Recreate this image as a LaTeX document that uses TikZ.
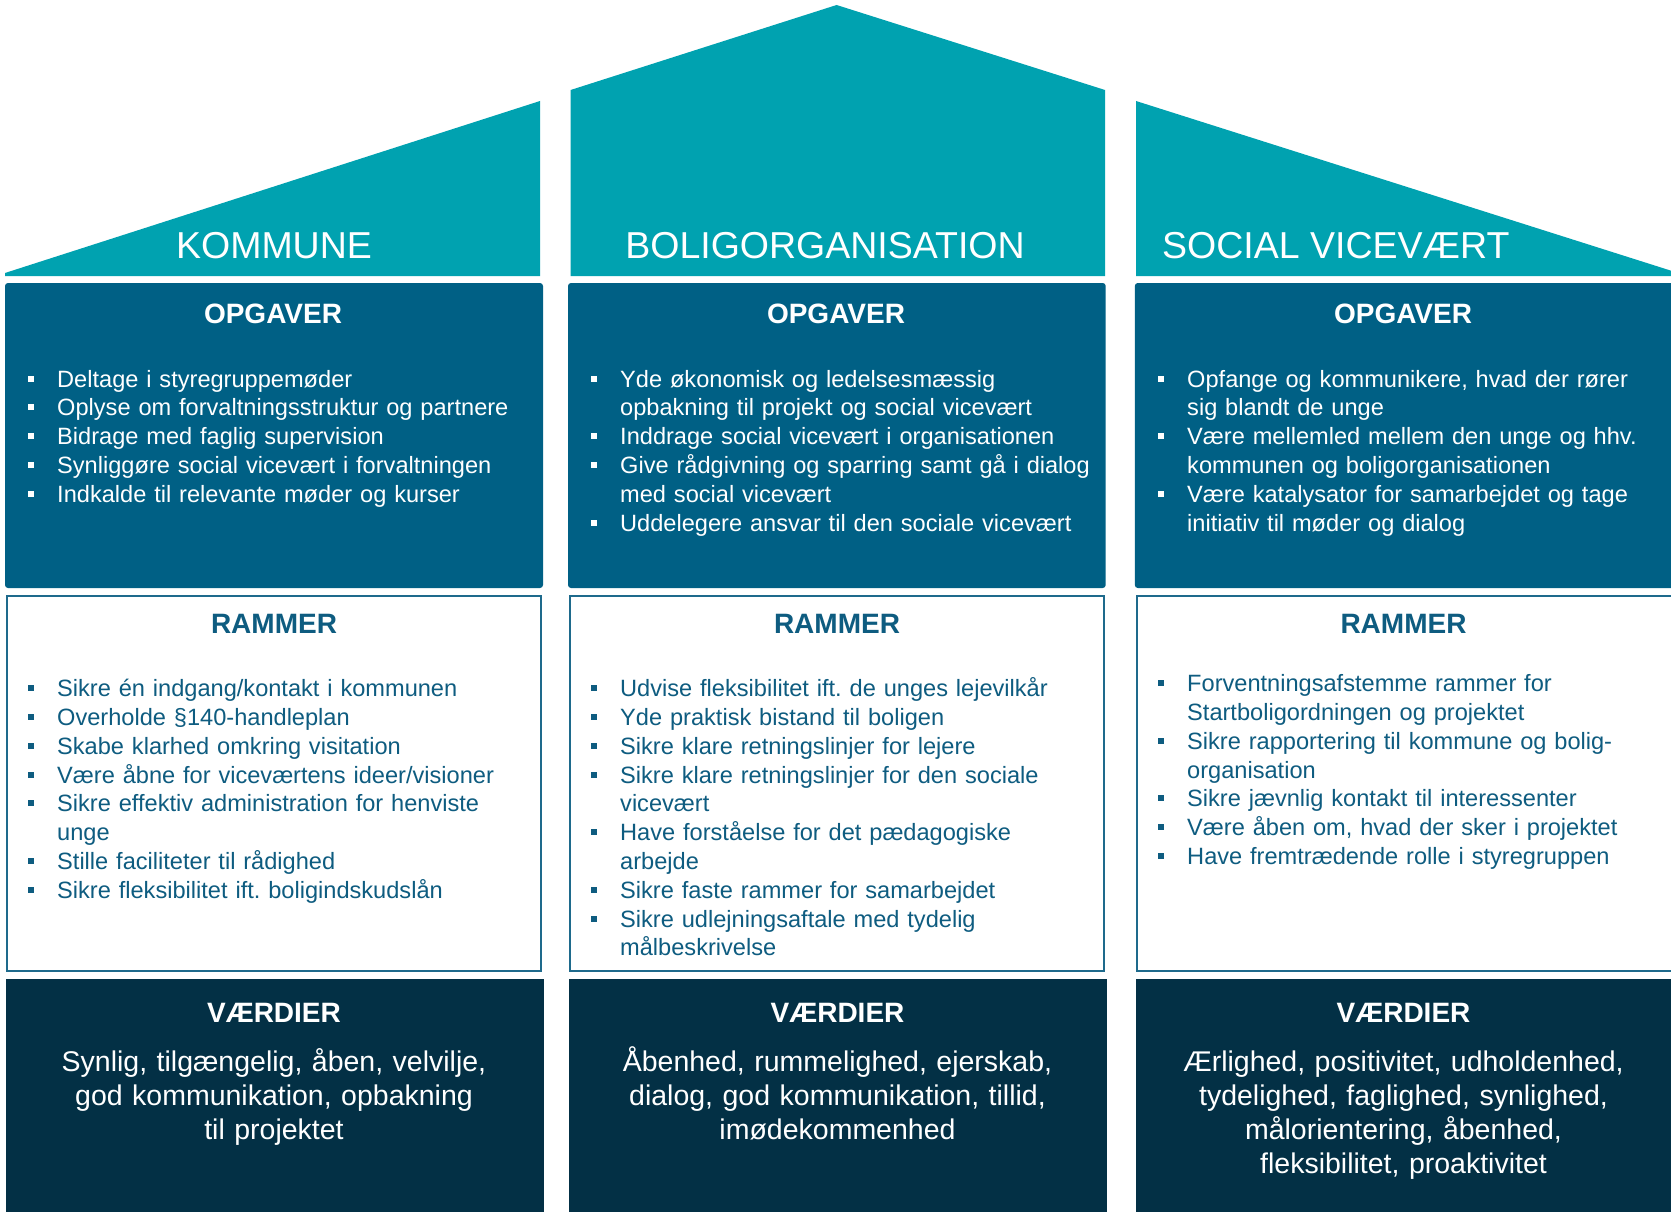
\documentclass[tikz,border=0pt]{standalone}
\usepackage{fontspec}
\setmainfont{Liberation Sans}
\frenchspacing
\definecolor{roofteal}{RGB}{0,162,176}
\definecolor{opgblue}{RGB}{0,96,133}
\definecolor{ramtext}{RGB}{14,92,128}
\definecolor{ramline}{RGB}{30,106,140}
\definecolor{vaernavy}{RGB}{3,48,69}
\newcommand\bul[1]{\noindent\makebox[29.6pt][l]{\rule[5.5pt]{6pt}{6pt}}#1\par}
\newcommand\cnt[1]{\noindent\hspace*{29.6pt}#1\par}
\tikzset{
  roof/.style={fill=roofteal},
  opgbox/.style={fill=opgblue, rounded corners=3pt},
  rambox/.style={draw=ramline, line width=2pt, fill=white},
  vaerbox/.style={fill=vaernavy},
  rooflabel/.style={text=white, font=\fontsize{37.5}{40}\selectfont, inner sep=0pt},
  head/.style={font=\fontsize{28}{32}\selectfont\bfseries, inner sep=0pt, anchor=base},
  lst/.style={font=\fontsize{23.6}{28.8}\selectfont\frenchspacing, inner sep=0pt, anchor=base west, text width=600pt},
  vtxt/.style={font=\fontsize{28.5}{34}\selectfont, inner sep=0pt, anchor=base, text width=540pt, align=center, text=white},
}
\begin{document}
\begin{tikzpicture}[x=1pt,y=-1pt]
\useasboundingbox (0,0) rectangle (1671,1212);
\fill[white] (0,0) rectangle (1671,1212);
% roofs
\fill[roof] (5,276) -- (5,273) -- (540,101) -- (540,276) -- cycle;
\fill[roof] (570.6,276) -- (570.6,90) -- (836.6,5) -- (1105,90) -- (1105,276) -- cycle;
\fill[roof] (1136,276) -- (1136,101) -- (1672,271) -- (1672,276) -- cycle;
\node[rooflabel, anchor=base] (lkom) at (274,258) {KOMMUNE};
\node[rooflabel, anchor=base] (lbol) at (825,258) {BOLIGORGANISATION};
\node[rooflabel, anchor=base west] (lsoc) at (1162,258) {SOCIAL VICEVÆRT};
% OPGAVER boxes
\fill[opgbox] (5,283) rectangle (543,588);
\fill[opgbox] (568,283) rectangle (1105.7,588);
\fill[opgbox] (1134.8,283) rectangle (1678,588);
% RAMMER boxes
\draw[rambox] (7.4,596) rectangle (540.8,971);
\draw[rambox] (570,596) rectangle (1104,971);
\draw[rambox] (1136.8,596) rectangle (1678,971);
% VAERDIER boxes
\fill[vaerbox] (6.4,979) rectangle (543.7,1214);
\fill[vaerbox] (569,979) rectangle (1106.6,1214);
\fill[vaerbox] (1136.4,979) rectangle (1678,1214);
% headings
\node[head, text=white] (ho1) at (273,323) {OPGAVER};
\node[head, text=white] (ho2) at (836,323) {OPGAVER};
\node[head, text=white] (ho3) at (1403,323) {OPGAVER};
\node[head, text=ramtext] (hr1) at (274,633) {RAMMER};
\node[head, text=ramtext] (hr2) at (837,633) {RAMMER};
\node[head, text=ramtext] (hr3) at (1403.5,633) {RAMMER};
\node[head, text=white] (hv1) at (274,1022.7) {VÆRDIER};
\node[head, text=white] (hv2) at (837.5,1022.7) {VÆRDIER};
\node[head, text=white] (hv3) at (1403.5,1022.7) {VÆRDIER};
% OPGAVER lists
\node[lst, text=white] (lo1) at (27.4,387) {%
\bul{Deltage i styregruppemøder}%
\bul{Oplyse om forvaltningsstruktur og partnere}%
\bul{Bidrage med faglig supervision}%
\bul{Synliggøre social vicevært i forvaltningen}%
\bul{Indkalde til relevante møder og kurser}};
\node[lst, text=white] (lo2) at (590.4,387) {%
\bul{Yde økonomisk og ledelsesmæssig}%
\cnt{opbakning til projekt og social vicevært}%
\bul{Inddrage social vicevært i organisationen}%
\bul{Give rådgivning og sparring samt gå i dialog}%
\cnt{med social vicevært}%
\bul{Uddelegere ansvar til den sociale vicevært}};
\node[lst, text=white] (lo3) at (1157.4,387) {%
\bul{Opfange og kommunikere, hvad der rører}%
\cnt{sig blandt de unge}%
\bul{Være mellemled mellem den unge og hhv.}%
\cnt{kommunen og boligorganisationen}%
\bul{Være katalysator for samarbejdet og tage}%
\cnt{initiativ til møder og dialog}};
% RAMMER lists
\node[lst, text=ramtext] (lr1) at (27.4,696.7) {%
\bul{Sikre én indgang/kontakt i kommunen}%
\bul{Overholde §140-handleplan}%
\bul{Skabe klarhed omkring visitation}%
\bul{Være åbne for viceværtens ideer/visioner}%
\bul{Sikre effektiv administration for henviste}%
\cnt{unge}%
\bul{Stille faciliteter til rådighed}%
\bul{Sikre fleksibilitet ift. boligindskudslån}};
\node[lst, text=ramtext] (lr2) at (590.4,696.7) {%
\bul{Udvise fleksibilitet ift. de unges lejevilkår}%
\bul{Yde praktisk bistand til boligen}%
\bul{Sikre klare retningslinjer for lejere}%
\bul{Sikre klare retningslinjer for den sociale}%
\cnt{vicevært}%
\bul{Have forståelse for det pædagogiske}%
\cnt{arbejde}%
\bul{Sikre faste rammer for samarbejdet}%
\bul{Sikre udlejningsaftale med tydelig}%
\cnt{målbeskrivelse}};
\node[lst, text=ramtext] (lr3) at (1157.4,691.7) {%
\bul{Forventningsafstemme rammer for}%
\cnt{Startboligordningen og projektet}%
\bul{Sikre rapportering til kommune og bolig-}%
\cnt{organisation}%
\bul{Sikre jævnlig kontakt til interessenter}%
\bul{Være åben om, hvad der sker i projektet}%
\bul{Have fremtrædende rolle i styregruppen}};
% VAERDIER texts
\node[vtxt] (v1) at (274,1071.5) {Synlig, tilgængelig, åben, velvilje,\\god kommunikation, opbakning\\til projektet};
\node[vtxt] (v2) at (837.5,1071.5) {Åbenhed, rummelighed, ejerskab,\\dialog, god kommunikation, tillid,\\imødekommenhed};
\node[vtxt] (v3) at (1403.5,1071.5) {Ærlighed, positivitet, udholdenhed,\\tydelighed, faglighed, synlighed,\\målorientering, åbenhed,\\fleksibilitet, proaktivitet};
\end{tikzpicture}
\end{document}
